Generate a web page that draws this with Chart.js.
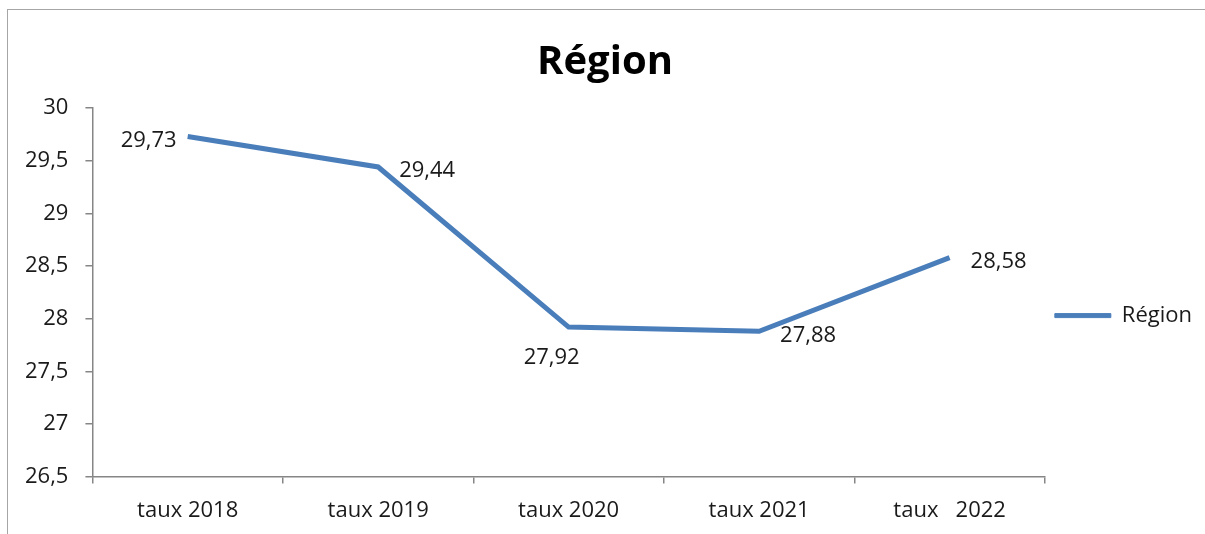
<!DOCTYPE html>
<html>
<head>
<meta charset="utf-8">
<script src="https://cdn.jsdelivr.net/npm/chart.js@4.4.1/dist/chart.umd.min.js"></script>
<style>
  html, body { margin: 0; padding: 0; background: #fff; overflow: hidden; }
  .frame {
    position: absolute; left: 7px; top: 9px; width: 1210px; height: 560px;
    border-left: 1px solid #a6a6a6; border-top: 1px solid #a6a6a6;
  }
  .box { position: absolute; left: 8px; top: 10px; width: 1197px; height: 544px; }
</style>
</head>
<body>
<div class="frame"></div>
<div class="box"><canvas id="myChart1"></canvas></div>
<script>
const categories = ["taux 2018", "taux 2019", "taux 2020", "taux 2021", "taux   2022"];
const regionValues = [29.73, 29.44, 27.92, 27.88, 28.58];
const yTicks = { min: 26.5, max: 30, step: 0.5 };
// where each value label sits relative to its point
const labelPos = ["left", "right", "below", "right", "right"];

const fr = v => String(v).replace(".", ",");
const axisGrey = "#868686";
const lineBlue = "#4a7ebb";
const textCol = "#1a1a1a";

// value labels, excel style
const pointLabels = {
  id: "pointLabels",
  afterDatasetsDraw(chart) {
    const ctx = chart.ctx;
    const meta = chart.getDatasetMeta(0);
    ctx.save();
    ctx.font = "22px 'Open Sans'";
    ctx.fillStyle = textCol;
    ctx.textBaseline = "middle";
    meta.data.forEach((pt, i) => {
      const txt = fr(regionValues[i]);
      let x = pt.x, y = pt.y + 4;
      if (labelPos[i] === "left") { ctx.textAlign = "right"; x -= 11; }
      else if (labelPos[i] === "right") { ctx.textAlign = "left"; x += 21; }
      else { ctx.textAlign = "center"; x -= 17; y = pt.y + 31; }
      ctx.fillText(txt, x, y);
    });
    ctx.restore();
  }
};

let ctx = document.getElementById("myChart1").getContext("2d");
let myChart1 = new Chart(ctx, {
  type: "line",
  data: {
    labels: categories,
    datasets: [{
      label: "Région",
      data: regionValues,
      borderColor: lineBlue,
      backgroundColor: lineBlue,
      borderWidth: 5,
      pointRadius: 0,
      tension: 0,
      fill: false
    }]
  },
  options: {
    responsive: true,
    maintainAspectRatio: false,
    animation: false,
    layout: { padding: { top: 19, left: 0, right: 3, bottom: 16 } },
    plugins: {
      tooltip: { enabled: false },
      title: {
        display: true,
        text: "Région",
        color: "#000",
        font: { family: "'Open Sans'", size: 40, weight: "bold" },
        padding: { top: 10, bottom: 21 }
      },
      legend: {
        position: "right",
        title: { display: true, text: " ", font: { size: 1 }, padding: { top: 63, bottom: 0 } },
        labels: {
          color: textCol,
          font: { family: "'Open Sans'", size: 22 },
          boxWidth: 56,
          boxHeight: 4,
          padding: 10,
          generateLabels(chart) {
            return [{
              text: "Région",
              fillStyle: lineBlue,
              strokeStyle: lineBlue,
              fontColor: textCol,
              lineWidth: 1,
              datasetIndex: 0
            }];
          }
        }
      }
    },
    scales: {
      x: {
        offset: true,
        border: { color: axisGrey, width: 1.5 },
        grid: { offset: true, drawOnChartArea: false, color: axisGrey, tickLength: 7, lineWidth: 1.5 },
        ticks: { color: textCol, font: { family: "'Open Sans'", size: 22 }, padding: 14, maxRotation: 0 }
      },
      y: {
        min: yTicks.min,
        max: yTicks.max,
        border: { color: axisGrey, width: 1.5 },
        grid: { drawOnChartArea: false, color: axisGrey, tickLength: 7, lineWidth: 1.5 },
        ticks: {
          stepSize: yTicks.step,
          color: textCol,
          font: { family: "'Open Sans'", size: 22 },
          padding: 17,
          callback: v => fr(v)
        }
      }
    }
  },
  plugins: [pointLabels]
});
</script>
</body>
</html>
